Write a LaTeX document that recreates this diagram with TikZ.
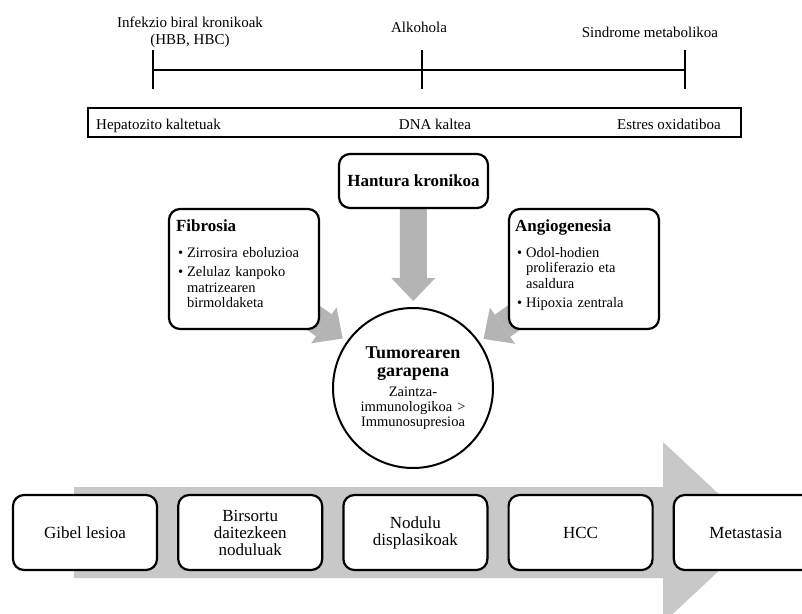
\documentclass[tikz,border=0pt]{standalone}
\usepackage{fontspec}
\setmainfont{Liberation Serif}
\usetikzlibrary{arrows.meta,backgrounds,positioning}

\definecolor{arrowgray}{RGB}{180,180,180}
\definecolor{bandgray}{RGB}{200,200,200}
\newcommand{\boxhead}{\fontsize{17}{20}\selectfont\bfseries}
\newenvironment{bullist}
    {\begin{list}{\textbullet}{\setlength{\leftmargin}{11pt}\setlength{\labelwidth}{7pt}%
        \setlength{\labelsep}{4pt}\setlength{\itemsep}{4pt}\setlength{\parsep}{0pt}%
        \setlength{\topsep}{0pt}\setlength{\partopsep}{0pt}}}
    {\end{list}}

\begin{document}
\begin{tikzpicture}
    [
        x=1pt, y=-1pt,
        timeline/.style={line width=1.3pt},
        toplabel/.style={font=\fontsize{15}{17}\selectfont, inner sep=0pt},
        roundbox/.style={draw, rounded corners=11pt, line width=2.2pt, fill=white, inner sep=0pt},
        boxtext/.style={anchor=north west, inner sep=0pt, text width=136pt, align=left, font=\fontsize{14.5}{15.5}\selectfont},
        stagebox/.style={roundbox, minimum width=144pt, minimum height=75pt, align=center, font=\fontsize{17}{17}\selectfont},
        grayarrow/.style={draw=arrowgray, line width=27pt, -{Triangle[width=44pt, length=23pt, line width=0pt]}},
        node distance=19pt
    ]
    \useasboundingbox (0,0) rectangle (802,613);

    % risk factors
    \coordinate (viral) at (153,70);
    \coordinate (alcohol) at (422,70);
    \coordinate (metab) at (685,70);
    \draw[timeline] (viral) -- (metab);
    \foreach \c in {viral,alcohol,metab}
        \draw[timeline] ([yshift=20pt]\c) -- ([yshift=-19pt]\c);
    \node[toplabel, align=center] (viraltext) at (190,32) {Infekzio biral kronikoak\\(HBB, HBC)};
    \node[toplabel, anchor=base] (alcoholtext) at (419,32) {Alkohola};
    \node[toplabel, anchor=base] (metabtext) at (650,37) {Sindrome metabolikoa};

    \node[draw, line width=1.4pt, minimum width=653pt, minimum height=29pt, inner sep=0pt] (damage) at (414.5,122.5) {};
    \node[toplabel, anchor=base west] (hepa) at (96,129.5) {Hepatozito kaltetuak};
    \node[toplabel, anchor=base] (dna) at (435,129.5) {DNA kaltea};
    \node[toplabel, anchor=base east] (oxid) at (721,129.5) {Estres oxidatiboa};

    % mechanisms
    \node[roundbox, minimum width=149pt, minimum height=54pt, font=\boxhead] (hant) at (413.5,181) {Hantura kronikoa};
    \node[roundbox, minimum width=150pt, minimum height=120pt] (fib) at (244,269) {};
    \node[boxtext] (fibtext) at ([shift={(8pt,-11.5pt)}]fib.north west)
        {{\boxhead Fibrosia}\par\vspace{10.5pt}
        \begin{bullist}
            \item Zirrosira eboluzioa
            \item Zelulaz kanpoko\\matrizearen\\birmoldaketa
        \end{bullist}};
    \node[roundbox, minimum width=150pt, minimum height=120pt] (angio) at (584,269) {};
    \node[boxtext] (angiotext) at ([shift={(7pt,-11.5pt)}]angio.north west)
        {{\boxhead Angiogenesia}\par\vspace{10.5pt}
        \begin{bullist}
            \item Odol-hodien\\proliferazio eta\\asaldura
            \item Hipoxia zentrala
        \end{bullist}};

    \node[draw, circle, line width=2pt, fill=white, minimum size=160pt, inner sep=0pt, text width=120pt, align=center, font=\fontsize{14.5}{15}\selectfont] (tum) at (413,388)
        {{\fontsize{18}{18}\selectfont\bfseries Tumorearen\\garapena\par}\vspace{5pt}Zaintza-\\immunologikoa >\\Immunosupresioa};

    % stages
    \node[stagebox] (liver) at (85,532.5) {Gibel lesioa};
    \node[stagebox, right=of liver] (regen) {Birsortu\\daitezkeen\\noduluak};
    \node[stagebox, right=of regen] (dysp) {Nodulu\\displasikoak};
    \node[stagebox, right=of dysp] (hcc) {HCC};
    \node[stagebox, right=of hcc] (meta) {Metastasia};

    \begin{scope}[on background layer]
        \fill[white] (0,0) rectangle (802,613);
        \fill[bandgray] (74,487) -- (663,487) -- (663,442) -- (760,532.5) -- (663,623) -- (663,578) -- (74,578) -- cycle;
        \draw[grayarrow, shorten >=6pt] (hant) -- (tum);
        \draw[grayarrow, shorten >=5pt] (fib.center) -- (tum);
        \draw[grayarrow, shorten >=5pt] (angio.center) -- (tum);
    \end{scope}
\end{tikzpicture}
\end{document}
